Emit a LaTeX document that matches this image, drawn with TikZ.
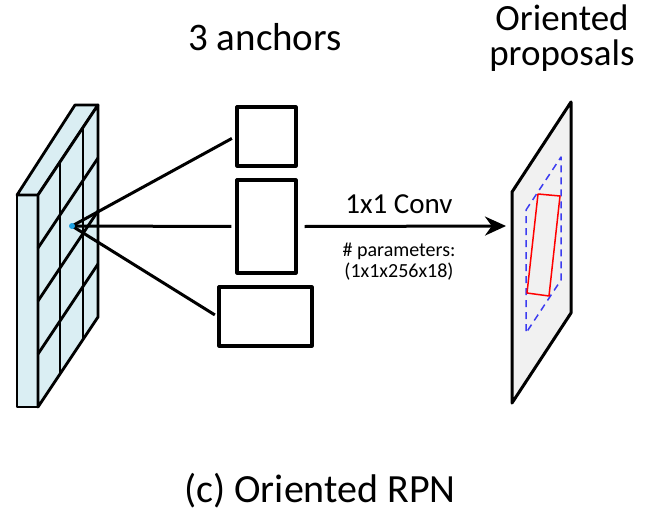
\documentclass[tikz,border=0pt]{standalone}
\usepackage{fontspec}
\setmainfont{Carlito}
\usetikzlibrary{arrows.meta}
\definecolor{mapblue}{RGB}{218,238,243}
\definecolor{planegray}{RGB}{241,241,241}
\definecolor{propblue}{RGB}{60,60,240}
\definecolor{cellcyan}{RGB}{30,160,225}

\begin{document}
\begin{tikzpicture}[x=1pt,y=-1pt,>=Stealth,line join=round,
  anchorbox/.style={draw,line width=3.2pt,inner sep=0pt},
  conn/.style={line width=3pt}]
\path[use as bounding box] (0,0) rectangle (664,514);
% titles
\node[anchor=base,font=\fontsize{39}{39}\selectfont] (anchorstitle) at (265,50) {3 anchors};
\node[anchor=base,align=center,font=\fontsize{37}{35}\selectfont] (proptitle) at (562,65) {Oriented\\proposals};
\node[anchor=base,font=\fontsize{40}{40}\selectfont] (caption) at (320,502) {(c) Oriented RPN};
% feature map
\filldraw[fill=mapblue,line width=2.8pt] (17,195) rectangle (38,407);
\filldraw[fill=mapblue,line width=2.8pt] (17,195)--(38,195)--(98,105)--(75,105)--cycle;
\filldraw[fill=mapblue,line width=2.8pt] (38,195)--(98,105)--(98,317)--(38,407)--cycle;
\draw[line width=2.8pt] (60,162)--(60,374) (83,127.5)--(83,339.5);
\foreach \y in {248,301,354}
  \draw[line width=2.8pt] (38,\y)--(98,{\y-90});
\coordinate (cell) at (72,226);
% anchors
\node[anchorbox,minimum width=59pt,minimum height=59pt] (small) at (266.5,136.5) {};
\node[anchorbox,minimum width=59pt,minimum height=93pt] (tall) at (266.5,226.5) {};
\node[anchorbox,minimum width=93pt,minimum height=59pt] (wide) at (265.5,316.5) {};
\draw[conn,shorten >=4pt] (cell) -- (small.west);
\draw[conn,shorten >=4pt] (cell) -- (tall.west);
\draw[conn,shorten >=3pt] (cell) -- (wide.west);
\fill[cellcyan] (cell) circle (3pt);
% proposals plane
\filldraw[fill=planegray,line width=3pt] (512,192)--(571,102)--(571,313)--(512,403)--cycle;
\draw[propblue,line width=1.5pt,dash pattern=on 7pt off 5pt] (526,210)--(561,157)--(561,280)--(526,333)--cycle;
\draw[red,line width=1.5pt] (538,194)--(560,196)--(549,296)--(527,293)--cycle;
\coordinate (plane) at (506,226);
% conv arrow
\draw[conn,-{Stealth[length=21pt,width=19pt]}] ([xshift=7pt]tall.east) -- (plane);
\node[anchor=base,font=\fontsize{29}{29}\selectfont] (convlabel) at (399,213) {1x1 Conv};
\node[anchor=base,align=center,font=\fontsize{20}{21}\selectfont] (paramlabel) at (399,277) {\# parameters:\\(1x1x256x18)};
\end{tikzpicture}
\end{document}
